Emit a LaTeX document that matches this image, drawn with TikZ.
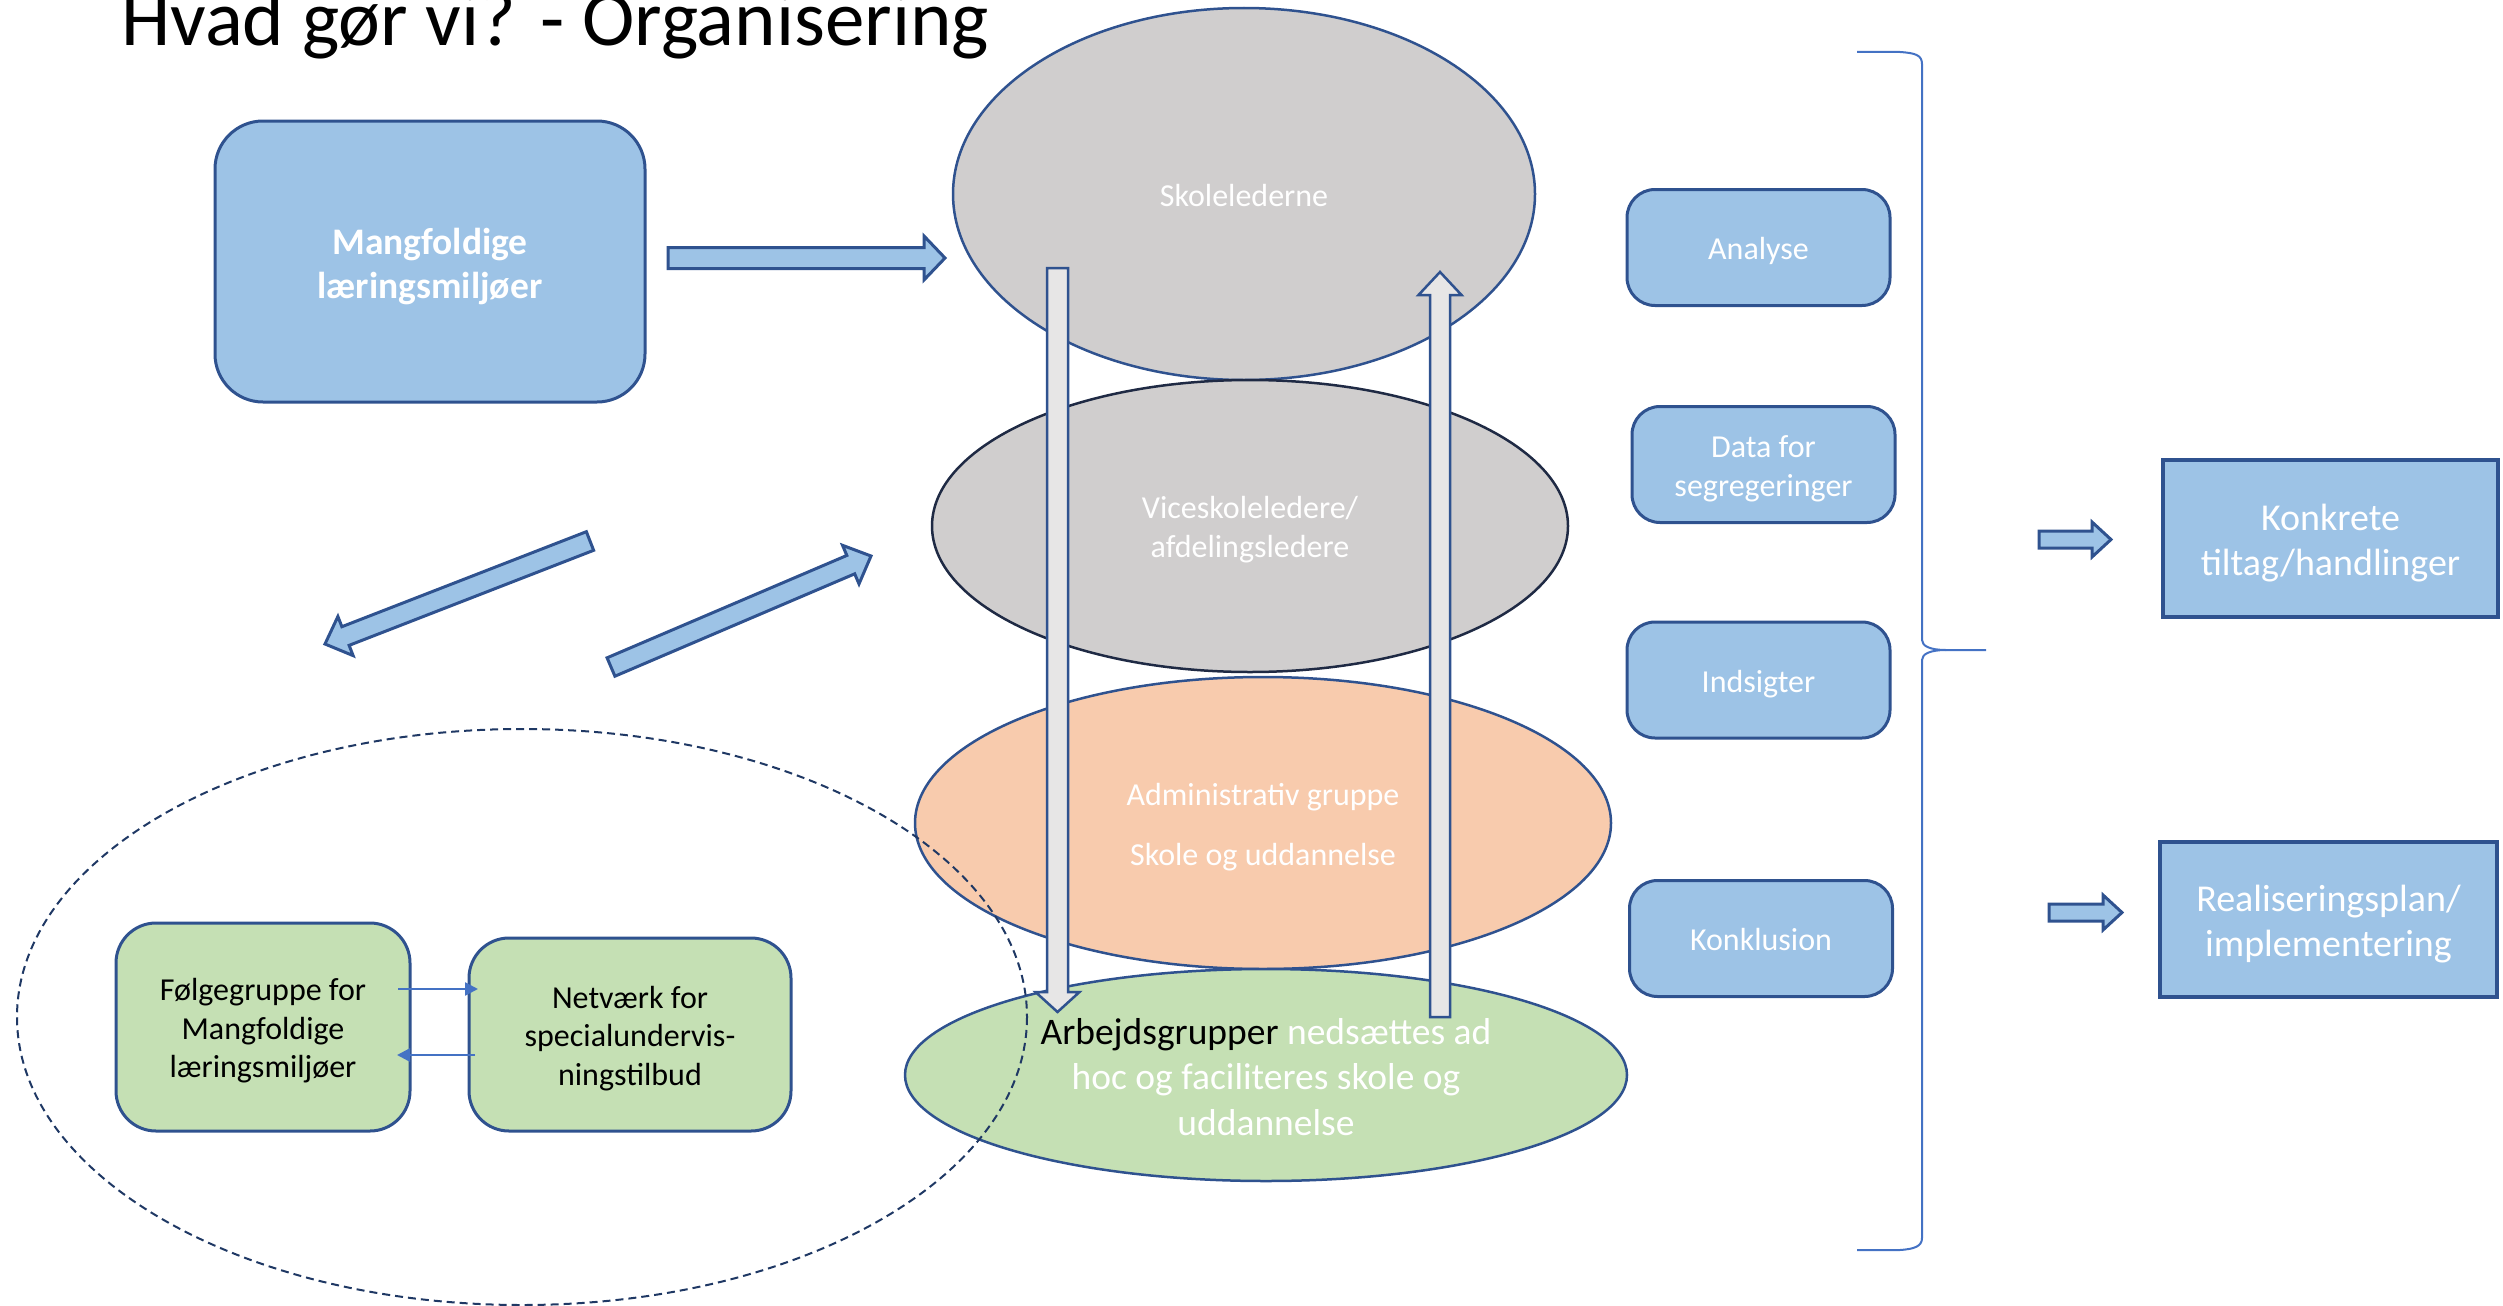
\documentclass[tikz,border=0pt]{standalone}
\usepackage{fontspec}
\setmainfont{Carlito}
\usetikzlibrary{shapes.geometric,calc,arrows.meta}
\definecolor{bfill}{HTML}{9DC3E6}
\definecolor{bline}{HTML}{2F528F}
\definecolor{gfill}{HTML}{D0CECE}
\definecolor{pfill}{HTML}{F8CBAD}
\definecolor{grfill}{HTML}{C5E0B4}
\definecolor{afill}{HTML}{E7E6E6}
\definecolor{acc}{HTML}{4472C4}
\definecolor{navy}{HTML}{1F3864}
\definecolor{vline}{HTML}{1F2A44}
\newcommand{\fsz}[2]{\fontsize{#1}{#2}\selectfont}
\newcommand{\tstr}{\rule{0pt}{1em}}
\newcommand{\bstr}{\rule[-0.22em]{0pt}{0pt}}
% #1 style, #2 start, #3 end, #4 half shaft, #5 half head, #6 head length, #7 prefix
\newcommand{\blockarrow}[7]{%
  \coordinate (#7hb) at ($(#3)!#6!(#2)$);
  \draw[#1] ($(#2)!#4!90:(#3)$) -- ($(#7hb)!#4!90:(#3)$) -- ($(#7hb)!#5!90:(#3)$) -- (#3)
     -- ($(#7hb)!#5!-90:(#3)$) -- ($(#7hb)!#4!-90:(#3)$) -- ($(#2)!#4!-90:(#3)$) -- cycle;}
\begin{document}
\begin{tikzpicture}[x=1pt,y=-1pt,
  bluebox/.style={draw=bline, line width=3pt, fill=bfill, rounded corners=28pt, text=white,
     align=center, inner sep=0pt, font=\fsz{32}{39}, minimum width=263pt, minimum height=116pt},
  bigbox/.style={draw=bline, line width=3pt, fill=bfill, rounded corners=48pt, text=white,
     align=center, inner sep=0pt, font=\bfseries\fsz{37.5}{44}},
  greenbox/.style={draw=bline, line width=3pt, fill=grfill, rounded corners=40pt, text=black,
     align=center, inner sep=0pt, font=\fsz{32}{38.5}},
  rbox/.style={draw=bline, line width=3.5pt, fill=bfill, text=white, align=center,
     inner sep=0pt, font=\fsz{38}{45}},
  ell/.style={ellipse, draw=bline, line width=2.5pt, text=white, align=center, inner sep=0pt,
     font=\fsz{32}{39}},
  bluearrow/.style={draw=bline, line width=3pt, fill=bfill, line join=miter},
  greyarrow/.style={draw=bline, line width=2.5pt, fill=afill, line join=miter},
  thinarr/.style={draw=acc, line width=2.5pt, -{Triangle[length=13pt,width=13pt]}},
  bracestyle/.style={draw=acc, line width=2pt},
]
\useasboundingbox (0,0) rectangle (2503,1306);

% title
\node[anchor=base west, inner sep=0pt, font=\fsz{79}{94}] (title) at (121,46) {Hvad gør vi? - Organisering};

% left big box
\node[bigbox, minimum width=430pt, minimum height=281pt] (mang) at (430,261.5) {\tstr Mangfoldige\\læringsmiljøer\bstr};

% ellipses
\node[ell, fill=gfill, minimum width=582pt, minimum height=372pt] (skole) at (1244,194) {\tstr Skolelederne\bstr};
\node[ell, fill=gfill, draw=vline, minimum width=636pt, minimum height=292pt] (vice) at (1250,526) {\tstr Viceskoleledere/\\afdelingsledere\bstr};
\node[ell, fill=pfill, minimum width=696pt, minimum height=292pt] (admin) at (1263,823) {\tstr Administrativ gruppe\\[21pt]Skole og uddannelse\bstr};
\node[ell, fill=grfill, minimum width=722pt, minimum height=212pt, font=\fsz{37.5}{45.5}] (arb) at (1266,1075)
  {\tstr\textcolor{black}{Arbejdsgrupper} nedsættes ad\\hoc og faciliteres skole og\\uddannelse\bstr};

% dashed ellipse
\draw[navy, line width=2pt, dash pattern=on 8pt off 5pt] (522,1017) ellipse [x radius=505, y radius=288];

% green boxes
\node[greenbox, minimum width=294pt, minimum height=208pt] (foelge) at (263,1027) {\tstr Følgegruppe for\\Mangfoldige\\læringsmiljøer\bstr};
\node[greenbox, minimum width=322pt, minimum height=193pt] (netv) at (630,1034.5) {\tstr Netværk for\\specialundervis-\\ningstilbud\bstr};
\coordinate (fa1) at (398,989); \coordinate (fa2) at (478,989);
\coordinate (fb1) at (475,1055); \coordinate (fb2) at (397,1055);
\draw[thinarr] (fa1) -- (fa2);
\draw[thinarr] (fb1) -- (fb2);

% right column boxes
\node[bluebox] (analyse) at (1758.5,247.5) {\tstr Analyse\bstr};
\node[bluebox] (data) at (1763.5,464.5) {\tstr Data for\\segregeringer\bstr};
\node[bluebox] (indsigt) at (1758.5,680) {\tstr Indsigter\bstr};
\node[bluebox] (konkl) at (1761,938.5) {\tstr Konklusion\bstr};

% far right boxes
\node[rbox, minimum width=335pt, minimum height=157pt] (konkrete) at (2330.5,538.5) {\tstr Konkrete\\tiltag/handlinger\bstr};
\node[rbox, minimum width=337pt, minimum height=155pt] (real) at (2328.5,919.5) {\tstr Realiseringsplan/\\implementering\bstr};

% brace
\draw[bracestyle] (1857,52) -- (1900,52) .. controls (1915,53) and (1922,55) .. (1922,64)
   -- (1922,640) .. controls (1922,646) and (1930,650) .. (1946,650) -- (1986,650);
\draw[bracestyle] (1946,650) .. controls (1930,650) and (1922,654) .. (1922,660)
   -- (1922,1238) .. controls (1922,1246) and (1915,1249) .. (1900,1250) -- (1857,1250);

% block arrows
\coordinate (m1) at (668,258); \coordinate (m2) at (945,258);
\blockarrow{bluearrow}{m1}{m2}{10.5pt}{22pt}{21pt}{ma}
\coordinate (dl1) at (590,541); \coordinate (dl2) at (325,644);
\blockarrow{bluearrow}{dl1}{dl2}{10pt}{21pt}{22pt}{dla}
\coordinate (dr1) at (611,667); \coordinate (dr2) at (871,556);
\blockarrow{bluearrow}{dr1}{dr2}{10pt}{21pt}{22pt}{dra}
\coordinate (r1a) at (2039,539.5); \coordinate (r1b) at (2111,539.5);
\blockarrow{bluearrow}{r1a}{r1b}{8.5pt}{17.5pt}{19pt}{ra}
\coordinate (r2a) at (2049,912.5); \coordinate (r2b) at (2122,912.5);
\blockarrow{bluearrow}{r2a}{r2b}{8.5pt}{17.5pt}{19pt}{rb}

% vertical grey arrows
\coordinate (dn1) at (1057.5,268); \coordinate (dn2) at (1057.5,1012);
\blockarrow{greyarrow}{dn1}{dn2}{10.5pt}{22pt}{20pt}{dna}
\coordinate (up1) at (1440,1017); \coordinate (up2) at (1440,272);
\blockarrow{greyarrow}{up1}{up2}{10pt}{21.5pt}{23pt}{upa}
\end{tikzpicture}
\end{document}
